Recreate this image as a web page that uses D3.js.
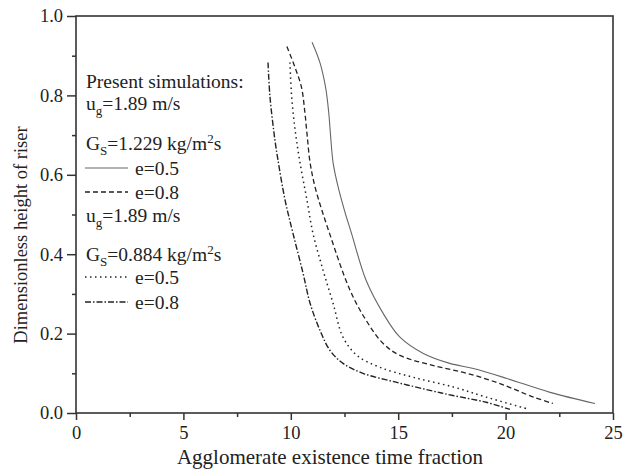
<!DOCTYPE html>
<html>
<head>
<meta charset="utf-8">
<script src="https://cdn.jsdelivr.net/npm/d3@7"></script>
<style>
  body { margin: 0; background: #fff; }
  svg text { font-family: "Liberation Serif", "Times New Roman", serif; fill: #222; }
</style>
</head>
<body>
<div id="chart"></div>
<script>
// values: [time fraction, dimensionless height]
const g1229e05 = [[10.99,0.934],[11.36,0.882],[11.62,0.82],[11.76,0.76],[11.85,0.7],[11.97,0.63],[12.2,0.57],[12.5,0.51],[12.83,0.452],[13.5,0.335],[14.3,0.251],[15.08,0.191],[16.17,0.15],[17.4,0.125],[18.5,0.112],[20.06,0.087],[22.07,0.052],[24.16,0.024]];
const g1229e08 = [[9.82,0.923],[10.2,0.87],[10.5,0.82],[10.65,0.76],[10.76,0.7],[10.9,0.63],[11.15,0.565],[11.8,0.453],[12.76,0.309],[13.5,0.234],[14.3,0.175],[15.08,0.145],[16.6,0.12],[18.2,0.1],[19.74,0.074],[21.3,0.04],[22.2,0.024]];
const g0884e05 = [[9.96,0.883],[10.04,0.797],[10.2,0.713],[10.43,0.63],[10.75,0.537],[11.03,0.453],[11.5,0.36],[11.97,0.276],[12.43,0.191],[13.08,0.145],[14.15,0.115],[15.7,0.09],[17.6,0.065],[19.1,0.04],[21.1,0.009]];
const g0884e08 = [[8.94,0.883],[9.03,0.797],[9.26,0.688],[9.4,0.638],[9.73,0.537],[10.1,0.453],[10.57,0.352],[10.9,0.276],[11.36,0.208],[11.82,0.158],[12.43,0.125],[13.36,0.1],[14.94,0.077],[16.48,0.057],[17.55,0.044],[19.1,0.027],[20.2,0.009]];

const xTicks = [0, 5, 10, 15, 20, 25];
const yTicks = [0.0, 0.2, 0.4, 0.6, 0.8, 1.0];

const width = 623, height = 470;
const margin = {top: 16, right: 10, bottom: 57, left: 76};
const serif = "'Liberation Serif', 'Times New Roman', serif";

const svg = d3.select("#chart").append("svg")
    .attr("width", width)
    .attr("height", height);

const x = d3.scaleLinear().domain([0, 25]).range([margin.left, width - margin.right]);
const y = d3.scaleLinear().domain([0, 1]).range([height - margin.bottom, margin.top]);

// frame
svg.append("rect")
    .attr("x", x(0)).attr("y", y(1))
    .attr("width", x(25) - x(0)).attr("height", y(0) - y(1))
    .attr("fill", "none").attr("stroke", "#333").attr("stroke-width", 1.6);

// minor ticks
const xAxisMinor = d3.axisBottom(x).tickValues(d3.range(2.5, 25, 5)).tickSize(4).tickFormat("");
const yAxisMinor = d3.axisLeft(y).tickValues(d3.range(0.1, 1, 0.2)).tickSize(4).tickFormat("");
svg.append("g").attr("transform", `translate(0,${y(0)})`).call(xAxisMinor);
svg.append("g").attr("transform", `translate(${x(0)},0)`).call(yAxisMinor);

// major ticks with labels
const xAxis = d3.axisBottom(x).tickValues(xTicks).tickSize(7).tickPadding(6).tickFormat(d3.format("d"));
const yAxis = d3.axisLeft(y).tickValues(yTicks).tickSize(9).tickPadding(4).tickFormat(d3.format(".1f"));
svg.append("g").attr("transform", `translate(0,${y(0)})`).call(xAxis);
svg.append("g").attr("transform", `translate(${x(0)},0)`).call(yAxis);

svg.selectAll(".domain").remove();
svg.selectAll(".tick line").attr("stroke", "#333").attr("stroke-width", 1.5);
svg.selectAll(".tick text").attr("font-size", 18.5).attr("fill", "#222")
    .style("font-family", serif);

// axis titles
svg.append("text")
    .attr("x", 330).attr("y", 464)
    .attr("text-anchor", "middle").attr("font-size", 21)
    .style("font-family", serif)
    .text("Agglomerate existence time fraction");
svg.append("text")
    .attr("transform", `translate(27,235) rotate(-90)`)
    .attr("text-anchor", "middle").attr("font-size", 18.5)
    .style("font-family", serif)
    .text("Dimensionless height of riser");

// curves
const series = [
  {data: g1229e05, dash: null, color: "#666", w: 1.1},
  {data: g1229e08, dash: "5,3", color: "#222", w: 1.3},
  {data: g0884e05, dash: "1.5,3.5", color: "#222", w: 1.5},
  {data: g0884e08, dash: "6,2,1.5,2", color: "#222", w: 1.4}
];

const line = d3.line()
    .x(d => x(d[0]))
    .y(d => y(d[1]))
    .curve(d3.curveCatmullRom.alpha(0.5));

svg.selectAll("path.curve").data(series).enter()
    .append("path")
    .attr("class", "curve")
    .attr("d", d => line(d.data))
    .attr("fill", "none")
    .attr("stroke", d => d.color)
    .attr("stroke-width", d => d.w)
    .attr("stroke-dasharray", d => d.dash);

// legend
const fs = 19.5, sub = 13;
const leg = svg.append("g").style("font-family", serif);
leg.append("text").attr("x", 86).attr("y", 88).attr("font-size", fs).text("Present simulations:");

function ugLabel(yy) {
  const t = leg.append("text").attr("x", 86).attr("y", yy).attr("font-size", fs);
  t.append("tspan").text("u");
  t.append("tspan").attr("font-size", sub).attr("dy", 5).text("g");
  t.append("tspan").attr("dy", -5).text("=1.89 m/s");
}
function gsLabel(yy, val) {
  const t = leg.append("text").attr("x", 86).attr("y", yy).attr("font-size", fs);
  t.append("tspan").text("G");
  t.append("tspan").attr("font-size", sub).attr("dy", 5).text("S");
  t.append("tspan").attr("dy", -5).text("=" + val + " kg/m");
  t.append("tspan").attr("font-size", sub).attr("dy", -7).text("2");
  t.append("tspan").attr("dy", 7).text("s");
}
function legLine(yy, s, label) {
  leg.append("line")
      .attr("x1", 85).attr("x2", 128).attr("y1", yy).attr("y2", yy)
      .attr("stroke", s.color).attr("stroke-width", s.w)
      .attr("stroke-dasharray", s.dash);
  leg.append("text").attr("x", 135).attr("y", yy + 7).attr("font-size", fs).text(label);
}

ugLabel(110);
gsLabel(150, "1.229");
legLine(168, series[0], "e=0.5");
legLine(192, series[1], "e=0.8");
ugLabel(222);
gsLabel(261, "0.884");
legLine(277, series[2], "e=0.5");
legLine(302, series[3], "e=0.8");
</script>
</body>
</html>
